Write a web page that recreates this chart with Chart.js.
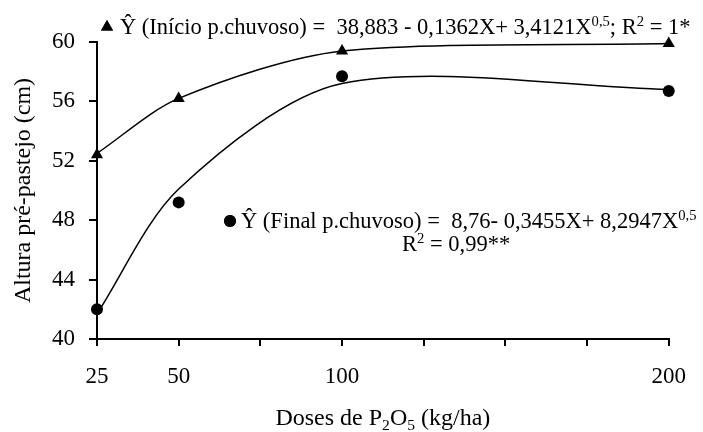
<!DOCTYPE html>
<html>
<head>
<meta charset="utf-8">
<script src="https://cdn.jsdelivr.net/npm/chart.js@4"></script>
<style>
  html, body { margin: 0; padding: 0; background: #fff; }
  canvas { display: block; }
</style>
</head>
<body>
<canvas id="chart" width="703" height="432"></canvas>
<script>
// doses (kg/ha of P2O5)
const doses = [25, 50, 100, 200];
const shownTicks = [25, 50, 100, 200];

const inicioObs = [52.4, 56.2, 59.4, 59.9];
const finalObs = [42.0, 49.2, 57.7, 56.7];

// fitted curve values at each dose (smoothed line through them)
const inicioFit = [52.5, 56.2, 59.4, 59.9];
const finalFit = [41.7, 50.1, 57.2, 56.8];

const FONT = '"Liberation Serif", "Times New Roman", serif';

const toXY = (ys) => doses.map((d, i) => ({ x: d, y: ys[i] }));

// draws a run of text pieces, some as super/subscript
function richText(ctx, x, y, parts, size) {
  let cx = x;
  parts.forEach(p => {
    const small = p.sup || p.sub;
    ctx.font = (small ? size * 0.65 : size) + 'px ' + FONT;
    const dy = p.sup ? -size * 0.36 : (p.sub ? size * 0.22 : 0);
    ctx.fillText(p.t, cx, y + dy);
    cx += ctx.measureText(p.t).width;
  });
  return cx - x;
}

const annotations = {
  id: 'annotations',
  afterDraw(chart) {
    const ctx = chart.ctx;
    ctx.save();
    ctx.fillStyle = '#000';
    ctx.textBaseline = 'alphabetic';
    ctx.textAlign = 'left';

    Chart.helpers.drawPoint(ctx, { pointStyle: 'triangle', radius: 7, borderWidth: 0 }, 107, 27);
    ctx.fill();
    richText(ctx, 120, 34, [
      { t: 'Ŷ (Início p.chuvoso) =  38,883 - 0,1362X+ 3,4121X' },
      { t: '0,5', sup: true },
      { t: '; R' },
      { t: '2', sup: true },
      { t: ' = 1*' }
    ], 22.5);

    Chart.helpers.drawPoint(ctx, { pointStyle: 'circle', radius: 6, borderWidth: 0 }, 230, 221);
    ctx.fill();
    richText(ctx, 241, 228, [
      { t: 'Ŷ (Final p.chuvoso) =  8,76- 0,3455X+ 8,2947X' },
      { t: '0,5', sup: true }
    ], 22.5);
    richText(ctx, 402, 251, [
      { t: 'R' },
      { t: '2', sup: true },
      { t: ' = 0,99**' }
    ], 22.5);

    // x axis title with subscripts
    const xs = chart.scales.x;
    const parts = [
      { t: 'Doses de P' }, { t: '2', sub: true }, { t: 'O' }, { t: '5', sub: true }, { t: ' (kg/ha)' }
    ];
    let w = 0;
    parts.forEach(p => {
      ctx.font = (p.sub ? 24 * 0.65 : 24) + 'px ' + FONT;
      w += ctx.measureText(p.t).width;
    });
    richText(ctx, (xs.left + xs.right) / 2 - w / 2, 425, parts, 24);
    ctx.restore();
  }
};

new Chart(document.getElementById('chart'), {
  type: 'scatter',
  data: {
    datasets: [
      {
        label: 'Início fit',
        data: toXY(inicioFit),
        showLine: true,
        borderColor: '#000',
        borderWidth: 1.5,
        pointRadius: 0,
        tension: 0.3,
        clip: false
      },
      {
        label: 'Final fit',
        data: toXY(finalFit),
        showLine: true,
        borderColor: '#000',
        borderWidth: 1.5,
        pointRadius: 0,
        tension: 0.3,
        clip: false
      },
      {
        label: 'Início p.chuvoso',
        data: toXY(inicioObs),
        pointStyle: 'triangle',
        pointRadius: 7,
        backgroundColor: '#000',
        borderColor: '#000',
        borderWidth: 0,
        clip: false
      },
      {
        label: 'Final p.chuvoso',
        data: toXY(finalObs),
        pointStyle: 'circle',
        pointRadius: 6,
        backgroundColor: '#000',
        borderColor: '#000',
        borderWidth: 0,
        clip: false
      }
    ]
  },
  options: {
    responsive: false,
    animation: false,
    layout: { padding: { top: 42, right: 29, left: 0, bottom: 0 } },
    plugins: { legend: { display: false }, tooltip: { enabled: false } },
    scales: {
      x: {
        type: 'linear',
        min: 25,
        max: 200,
        afterFit: (s) => { s.height = 93; },
        border: { display: true, color: '#000', width: 2 },
        grid: { display: true, drawOnChartArea: false, drawTicks: true, tickLength: 7, color: '#000', lineWidth: 2 },
        ticks: {
          stepSize: 25,
          padding: 17,
          color: '#000',
          font: { family: FONT, size: 23 },
          callback: (v) => shownTicks.includes(v) ? String(v) : ''
        }
      },
      y: {
        min: 40,
        max: 60,
        afterFit: (s) => { s.width = 97; },
        border: { display: true, color: '#000', width: 2 },
        grid: { display: true, drawOnChartArea: false, drawTicks: true, tickLength: 8, color: '#000', lineWidth: 2 },
        ticks: {
          stepSize: 4,
          padding: 14,
          color: '#000',
          font: { family: FONT, size: 23 }
        },
        title: {
          display: true,
          text: 'Altura pré-pastejo (cm)',
          color: '#000',
          font: { family: FONT, size: 24 },
          padding: { top: 9, bottom: 0 }
        }
      }
    }
  },
  plugins: [annotations]
});
</script>
</body>
</html>
